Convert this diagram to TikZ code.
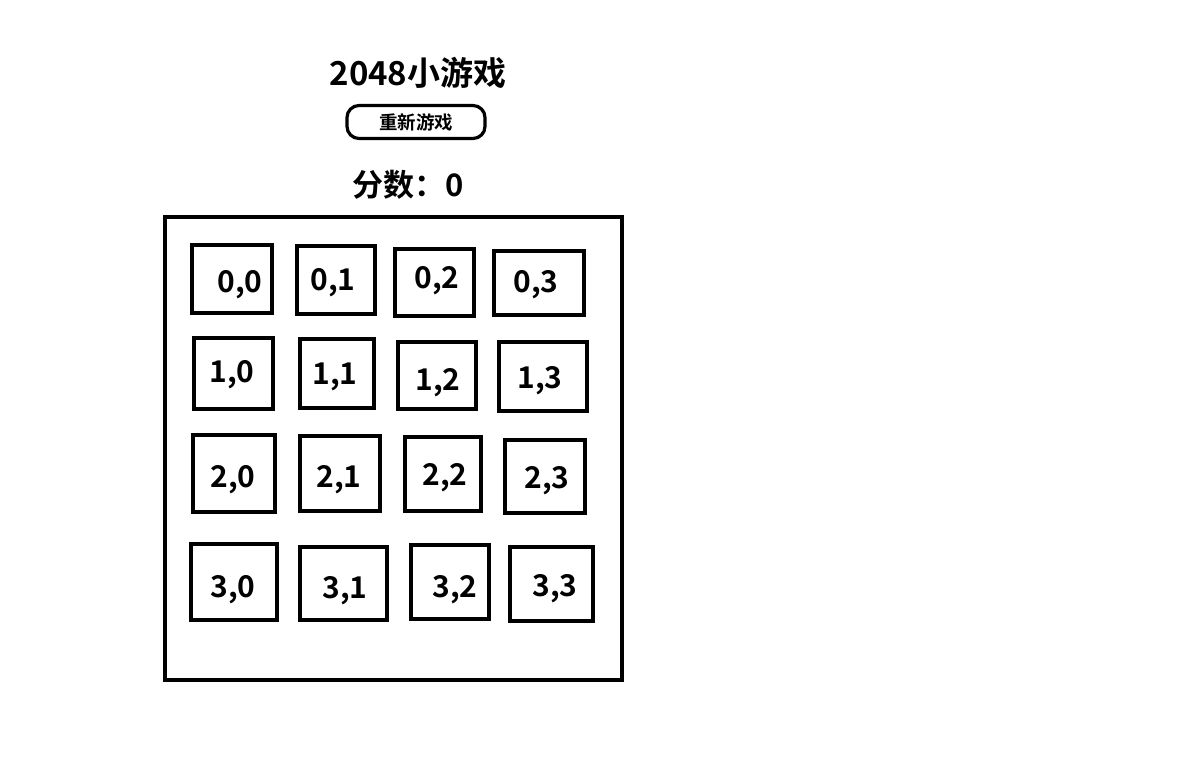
\documentclass[tikz,border=0pt]{standalone}
\usepackage{fontspec}
\newfontfamily\cjk{Noto Sans CJK SC}[BoldFont={* Bold}]
\tikzset{
    cell/.style={line width=4.4pt},
    num/.style={font=\cjk\bfseries\fontsize{30}{32}\selectfont, inner sep=0pt, yshift=-3pt},
    btn/.style={draw, line width=3.2pt, rounded corners=12pt, minimum width=138pt,
        minimum height=33pt, inner sep=0pt, font=\cjk\bfseries\fontsize{18.5}{20}\selectfont}
}

\begin{document}
\begin{tikzpicture}[x=1pt, y=-1pt]
    \useasboundingbox (0,0) rectangle (1190,765);

    % Header
    \node[font=\cjk\bfseries\fontsize{33}{35}\selectfont, inner sep=0pt] (title) at (418,73) {2048小游戏};
    \node[btn] (newgame) at (416,122) {重新游戏};
    \node[font=\cjk\bfseries\fontsize{31}{33}\selectfont, inner sep=0pt] (score) at (408,185) {分数：0};

    % Board
    \draw[cell] (165,217) rectangle (622,680);

    % Cells
    \foreach \r/\c/\xa/\ya/\xb/\yb/\tx/\ty in {
        0/0/192/245/272/313/240/282, 0/1/297/246/375/314/333/280,
        0/2/395/249/474/316/437/278, 0/3/494/251/584/315/536/282,
        1/0/194/338/273/409/232/372, 1/1/300/339/374/408/335/374,
        1/2/398/342/476/409/438/380, 1/3/499/342/587/411/540/378,
        2/0/193/435/275/512/233/477, 2/1/300/436/380/511/339/477,
        2/2/405/437/481/511/445/475, 2/3/505/440/585/513/547/478,
        3/0/191/544/277/620/233/587, 3/1/300/547/387/620/345/588,
        3/2/411/545/489/619/455/587, 3/3/510/547/593/621/555/586} {
        \draw[cell] (\xa,\ya) rectangle (\xb,\yb);
        \node[num] (n\r\c) at (\tx,\ty) {\r,\c};
    }
\end{tikzpicture}
\end{document}
